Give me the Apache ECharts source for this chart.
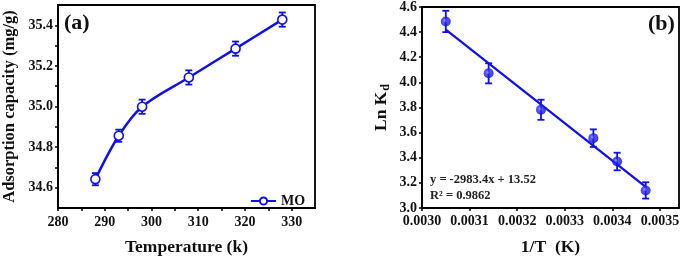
<!DOCTYPE html>
<html>
<head>
<meta charset="utf-8">
<script src="https://cdn.jsdelivr.net/npm/echarts@6/dist/echarts.min.js"></script>
<style>html,body{margin:0;padding:0;background:#fff}#c{width:685px;height:261px}</style>
</head>
<body>
<div id="c"></div>
<script>
// ---- Panel (a) data ----
const tempK = [288, 293, 298, 308, 318, 328];
const capacity = [34.642, 34.856, 34.999, 35.143, 35.285, 35.428];
const capacityErr = [0.03, 0.03, 0.035, 0.035, 0.035, 0.035];
// ---- Panel (b) data ----
const invT = [0.00305, 0.00314, 0.00325, 0.00336, 0.00341, 0.00347];
const lnKd = [4.485, 4.072, 3.782, 3.556, 3.37, 3.14];
const lnKdErr = [0.085, 0.08, 0.08, 0.07, 0.07, 0.065];
const fitX = [0.00305, 0.00347];
const fitY = [4.42, 3.168];
const fitText = ['y = -2983.4x + 13.52', 'R\u00b2 = 0.9862'];

const BLUE = '#1010ee';
const FONT = '"Liberation Serif","Times New Roman",serif';

function errSeries(xs, ys, es, gi) {
  return {
    type: 'custom', xAxisIndex: gi, yAxisIndex: gi, z: 3,
    data: xs.map((x, i) => [x, ys[i], es[i]]),
    renderItem: function (params, api) {
      const x = api.value(0), y = api.value(1), e = api.value(2);
      const p1 = api.coord([x, y + e]);
      const p2 = api.coord([x, y - e]);
      const w = 3.5;
      const st = { stroke: BLUE, lineWidth: 1.8 };
      return {
        type: 'group', children: [
          { type: 'line', shape: { x1: p1[0], y1: p1[1], x2: p2[0], y2: p2[1] }, style: st },
          { type: 'line', shape: { x1: p1[0] - w, y1: p1[1], x2: p1[0] + w, y2: p1[1] }, style: st },
          { type: 'line', shape: { x1: p2[0] - w, y1: p2[1], x2: p2[0] + w, y2: p2[1] }, style: st }
        ]
      };
    }
  };
}

const axisLabelStyle = { color: '#111', fontFamily: FONT, fontWeight: 'bold', fontSize: 14 };
const nameStyle = { color: '#111', fontFamily: FONT, fontWeight: 'bold', fontSize: 17.5 };
const lineStyleAx = { color: '#000', width: 1.8 };

const chart = echarts.init(document.getElementById('c'), null, { renderer: 'canvas' });
chart.setOption({
  animation: false,
  backgroundColor: '#fff',
  grid: [
    { left: 58, top: 5, width: 257, height: 207, show: true, borderColor: '#000', borderWidth: 1.8 },
    { left: 422, top: 7, width: 257, height: 205, show: true, borderColor: '#000', borderWidth: 1.8 }
  ],
  xAxis: [
    {
      type: 'value', gridIndex: 0, min: 280, max: 335, interval: 5,
      name: 'Temperature (k)', nameLocation: 'middle', nameGap: 30, nameTextStyle: nameStyle,
      axisLine: { lineStyle: lineStyleAx },
      axisTick: { inside: false, length: 3, lineStyle: { color: '#000', width: 1.5 } },
      axisLabel: Object.assign({ margin: 7, showMaxLabel: false,
        formatter: v => (Math.round(v) % 10 === 0 ? String(Math.round(v)) : '') }, axisLabelStyle),
      splitLine: { show: false }
    },
    {
      type: 'value', gridIndex: 1, min: 0.0030, max: 0.00354, interval: 0.0001,
      name: '1/T  (K)', nameLocation: 'middle', nameGap: 30, nameTextStyle: nameStyle,
      axisLine: { lineStyle: lineStyleAx },
      axisTick: { inside: false, length: 3, lineStyle: { color: '#000', width: 1.5 } },
      axisLabel: Object.assign({ margin: 6, showMaxLabel: false,
        formatter: v => v.toFixed(4) }, axisLabelStyle),
      splitLine: { show: false }
    }
  ],
  yAxis: [
    {
      type: 'value', gridIndex: 0, min: 34.5, max: 35.5, interval: 0.1,
      name: 'Adsorption capacity (mg/g)', nameLocation: 'middle', nameGap: 40,
      nameTextStyle: Object.assign({}, nameStyle, { fontSize: 16.5 }),
      axisLine: { lineStyle: lineStyleAx },
      axisTick: { inside: false, length: 3, lineStyle: { color: '#000', width: 1.5 } },
      axisLabel: Object.assign({ margin: 5, showMinLabel: false, showMaxLabel: false,
        formatter: v => (Math.round(v * 10) % 2 === 0 ? v.toFixed(1) : '') }, axisLabelStyle),
      splitLine: { show: false }
    },
    {
      type: 'value', gridIndex: 1, min: 3.0, max: 4.6, interval: 0.2,
      name: '{a|Ln K}{b|d}', nameLocation: 'middle', nameGap: 30,
      nameTextStyle: Object.assign({}, nameStyle, {
        rich: {
          a: { fontFamily: FONT, fontWeight: 'bold', fontSize: 17.5, color: '#111', lineHeight: 20, verticalAlign: 'top' },
          b: { fontFamily: FONT, fontWeight: 'bold', fontSize: 12, color: '#111', lineHeight: 12, verticalAlign: 'bottom', padding: [12, 0, 0, 1] }
        }
      }),
      axisLine: { lineStyle: lineStyleAx },
      axisTick: { inside: false, length: 3, lineStyle: { color: '#000', width: 1.5 } },
      axisLabel: Object.assign({ margin: 5, formatter: v => v.toFixed(1) }, axisLabelStyle),
      splitLine: { show: false }
    }
  ],
  legend: {
    data: ['MO'],
    left: 245, top: 189, itemWidth: 25, itemHeight: 9,
    textStyle: { color: '#111', fontFamily: FONT, fontWeight: 'bold', fontSize: 14 },
    itemGap: 4
  },
  series: [
    {
      name: 'MO', type: 'line', xAxisIndex: 0, yAxisIndex: 0, z: 4,
      data: tempK.map((t, i) => [t, capacity[i]]),
      smooth: 0.35,
      lineStyle: { color: BLUE, width: 2.5 },
      itemStyle: { color: '#fff', borderColor: BLUE, borderWidth: 1.6 },
      symbol: 'circle', symbolSize: 9
    },
    errSeries(tempK, capacity, capacityErr, 0),
    {
      name: 'fit', type: 'line', xAxisIndex: 1, yAxisIndex: 1, z: 2,
      data: fitX.map((x, i) => [x, fitY[i]]),
      symbol: 'none',
      lineStyle: { color: BLUE, width: 2.3 }
    },
    errSeries(invT, lnKd, lnKdErr, 1),
    {
      name: 'lnKd', type: 'scatter', xAxisIndex: 1, yAxisIndex: 1, z: 5,
      data: invT.map((x, i) => [x, lnKd[i]]),
      symbol: 'circle', symbolSize: 10,
      itemStyle: {
        color: new echarts.graphic.RadialGradient(0.4, 0.4, 0.6, [
          { offset: 0, color: '#8f8fff' },
          { offset: 0.35, color: '#2a2af5' },
          { offset: 1, color: '#0c0cdd' }
        ])
      }
    }
  ],
  graphic: [
    { type: 'text', left: 64, top: 12, style: { text: '(a)', fontFamily: FONT, fontWeight: 'bold', fontSize: 22, fill: '#111' } },
    { type: 'text', left: 648, top: 13, style: { text: '(b)', fontFamily: FONT, fontWeight: 'bold', fontSize: 22, fill: '#111' } },
    { type: 'text', left: 430, top: 173, style: { text: fitText[0], fontFamily: FONT, fontWeight: 'bold', fontSize: 12.5, fill: '#222' } },
    { type: 'text', left: 430, top: 189, style: { text: fitText[1], fontFamily: FONT, fontWeight: 'bold', fontSize: 12.5, fill: '#222' } }
  ]
});
</script>
</body>
</html>
